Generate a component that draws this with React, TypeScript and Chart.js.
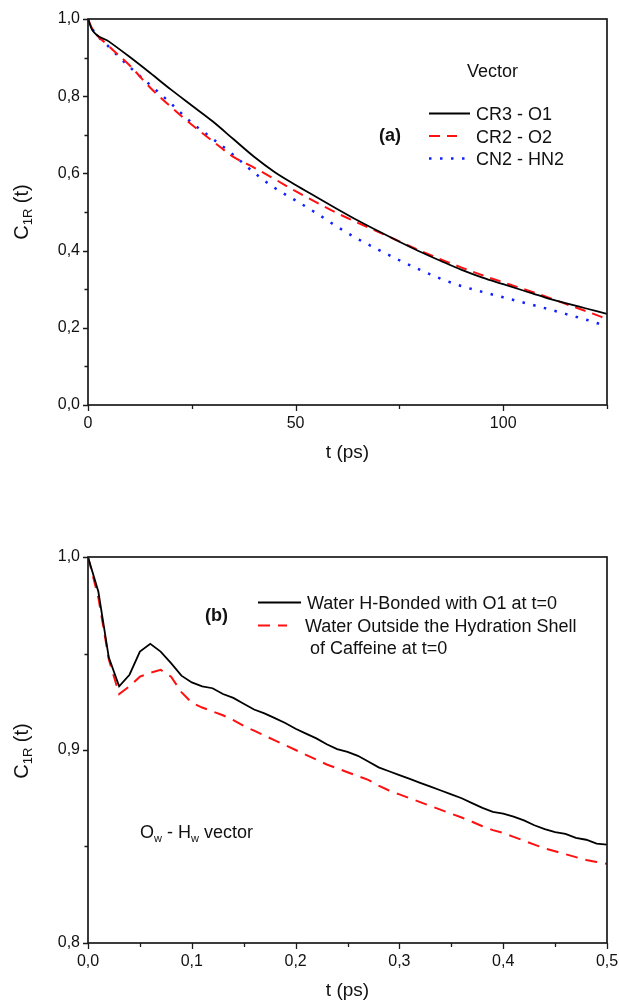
import React, { useEffect, useRef } from "react";
import { Chart, registerables } from "chart.js";
Chart.register(...registerables);

const FONT = "'Liberation Sans', Arial, Helvetica, sans-serif";

// ---------- Panel (a) ----------
const timeA = [0, 1, 5, 10, 15, 20, 25, 30, 35, 40, 45, 50, 55, 60, 65, 70, 75, 80, 85, 90, 95, 100, 105, 110, 115, 120, 125];
const seriesCR3O1 = [1.0, 0.972, 0.942, 0.902, 0.86, 0.817, 0.776, 0.735, 0.689, 0.643, 0.603, 0.57, 0.539, 0.508, 0.478, 0.45, 0.423, 0.397, 0.373, 0.35, 0.33, 0.313, 0.296, 0.279, 0.264, 0.25, 0.236];
const seriesCR2O2 = [1.0, 0.975, 0.93, 0.88, 0.822, 0.772, 0.726, 0.684, 0.643, 0.615, 0.585, 0.554, 0.525, 0.497, 0.472, 0.448, 0.424, 0.4, 0.377, 0.356, 0.336, 0.318, 0.3, 0.282, 0.262, 0.243, 0.223];
const seriesCN2HN2 = [1.0, 0.975, 0.928, 0.876, 0.829, 0.781, 0.731, 0.69, 0.648, 0.602, 0.562, 0.53, 0.497, 0.462, 0.43, 0.402, 0.375, 0.35, 0.327, 0.308, 0.293, 0.279, 0.265, 0.251, 0.236, 0.221, 0.204];
const namesA = ["CR3 - O1", "CR2 - O2", "CN2 - HN2"];
const xRangeA = [0, 125];
const yRangeA = [0, 1];

// ---------- Panel (b) ----------
const timeB = [0, 0.01, 0.02, 0.03, 0.04, 0.05, 0.06, 0.07, 0.08, 0.09, 0.1, 0.11, 0.12, 0.13, 0.14, 0.15, 0.16, 0.17, 0.18, 0.19, 0.2, 0.21, 0.22, 0.23, 0.24, 0.25, 0.26, 0.27, 0.28, 0.29, 0.3, 0.31, 0.32, 0.33, 0.34, 0.35, 0.36, 0.37, 0.38, 0.39, 0.4, 0.41, 0.42, 0.43, 0.44, 0.45, 0.46, 0.47, 0.48, 0.49, 0.5];
const seriesHBonded = [1.0, 0.982, 0.948, 0.933, 0.939, 0.951, 0.955, 0.951, 0.945, 0.9385, 0.935, 0.933, 0.932, 0.929, 0.927, 0.924, 0.921, 0.919, 0.9165, 0.914, 0.911, 0.9085, 0.906, 0.903, 0.9005, 0.899, 0.897, 0.894, 0.891, 0.889, 0.887, 0.885, 0.883, 0.881, 0.879, 0.877, 0.875, 0.8725, 0.87, 0.868, 0.867, 0.8655, 0.8635, 0.861, 0.859, 0.8575, 0.8565, 0.8545, 0.8535, 0.8515, 0.851];
const seriesOutside = [1.0, 0.979, 0.947, 0.929, 0.933, 0.938, 0.94, 0.9415, 0.938, 0.93, 0.9245, 0.922, 0.92, 0.918, 0.9155, 0.9125, 0.91, 0.9075, 0.905, 0.9025, 0.9, 0.8975, 0.895, 0.8925, 0.8905, 0.8885, 0.8865, 0.8845, 0.8815, 0.879, 0.877, 0.875, 0.873, 0.871, 0.869, 0.867, 0.865, 0.8628, 0.8605, 0.8585, 0.857, 0.855, 0.853, 0.851, 0.849, 0.8475, 0.846, 0.8445, 0.843, 0.842, 0.841];
const namesB = ["Water H-Bonded with O1 at t=0", "Water Outside the Hydration Shell", " of Caffeine at t=0"];
const xRangeB = [0, 0.5];
const yRangeB = [0.8, 1.0];

const BLACK = "#000000";
const RED = "#ff1010";
const BLUE = "#1020ff";
const INK = "#111111";

const comma = (v: number, d: number) => v.toFixed(d).replace(".", ",");

function drawRich(ctx: CanvasRenderingContext2D, parts: { t: string; size: number; dy: number }[], x: number, y: number, center: boolean) {
  let w = 0;
  parts.forEach((p) => {
    ctx.font = `${p.size}px ${FONT}`;
    w += ctx.measureText(p.t).width;
  });
  let cx = center ? x - w / 2 : x;
  parts.forEach((p) => {
    ctx.font = `${p.size}px ${FONT}`;
    ctx.fillText(p.t, cx, y + p.dy);
    cx += ctx.measureText(p.t).width;
  });
}

function drawYTitle(ctx: CanvasRenderingContext2D, bx: number, cy: number) {
  ctx.save();
  ctx.translate(bx, cy);
  ctx.rotate(-Math.PI / 2);
  ctx.fillStyle = INK;
  ctx.textBaseline = "alphabetic";
  drawRich(ctx, [{ t: "C", size: 20, dy: 0 }, { t: "1R", size: 13, dy: 4 }, { t: " (t)", size: 20, dy: 0 }], 0, 0, true);
  ctx.restore();
}

function sampleLine(ctx: CanvasRenderingContext2D, ds: any, x0: number, x1: number, y: number) {
  ctx.save();
  ctx.strokeStyle = ds.borderColor;
  ctx.lineWidth = ds.borderWidth;
  ctx.setLineDash(ds.borderDash || []);
  ctx.beginPath();
  ctx.moveTo(x0, y);
  ctx.lineTo(x1, y);
  ctx.stroke();
  ctx.restore();
}

const framePlugin = {
  id: "frameTicks",
  afterDatasetsDraw(chart: any) {
    const { ctx, chartArea: a } = chart;
    const xs = chart.scales.x;
    const ys = chart.scales.y;
    ctx.save();
    ctx.strokeStyle = "#1a1a1a";
    ctx.lineWidth = 1.3;
    ctx.beginPath();
    xs.ticks.forEach((t: any) => {
      const px = Math.round(xs.getPixelForValue(t.value)) + 0.5;
      const len = t.label ? 6 : 4;
      ctx.moveTo(px, a.bottom);
      ctx.lineTo(px, a.bottom + len);
    });
    ys.ticks.forEach((t: any) => {
      const py = Math.round(ys.getPixelForValue(t.value)) + 0.5;
      const len = t.label ? 5 : 3.5;
      ctx.moveTo(a.left, py);
      ctx.lineTo(a.left - len, py);
    });
    ctx.stroke();
    ctx.lineWidth = 1.7;
    ctx.strokeRect(a.left, a.top, a.right - a.left, a.bottom - a.top);
    ctx.restore();
  },
};

function makeOptions(opts: {
  xr: number[]; yr: number[]; xStep: number; yStep: number;
  xLabel: (v: number) => string; yLabel: (v: number) => string;
  padTop: number; xAxisH: number; titlePad: number; annotate: (ctx: CanvasRenderingContext2D, chart: any) => void;
}) {
  const tickFont = { family: FONT, size: 16 };
  return {
    options: {
      responsive: false,
      animation: false as const,
      events: [],
      layout: { padding: { top: opts.padTop, right: 12, left: 0, bottom: 0 } },
      plugins: { legend: { display: false }, tooltip: { enabled: false } },
      elements: { point: { radius: 0 } },
      scales: {
        x: {
          type: "linear" as const,
          min: opts.xr[0],
          max: opts.xr[1],
          border: { display: false },
          grid: { display: true, drawOnChartArea: false, drawTicks: true, tickLength: 5, tickColor: "rgba(0,0,0,0)", color: "rgba(0,0,0,0)" },
          ticks: { stepSize: opts.xStep, autoSkip: false, maxRotation: 0, padding: 4, color: INK, font: tickFont, callback: (v: any) => opts.xLabel(Number(v)) },
          title: { display: true, text: "t (ps)", color: INK, font: { family: FONT, size: 19, lineHeight: 1 }, padding: { top: 0, bottom: opts.titlePad } },
          afterFit: (s: any) => { s.height = opts.xAxisH; s.paddingLeft = 0; s.paddingRight = 0; },
        },
        y: {
          type: "linear" as const,
          min: opts.yr[0],
          max: opts.yr[1],
          border: { display: false },
          grid: { display: true, drawOnChartArea: false, drawTicks: true, tickLength: 5, tickColor: "rgba(0,0,0,0)", color: "rgba(0,0,0,0)" },
          ticks: { stepSize: opts.yStep, autoSkip: false, padding: 3, color: INK, font: tickFont, callback: (v: any) => opts.yLabel(Number(v)) },
          afterFit: (s: any) => { s.width = 88; s.paddingTop = 0; s.paddingBottom = 0; },
        },
      },
    },
    plugins: [
      framePlugin,
      {
        id: "annot",
        afterDraw(chart: any) {
          const ctx = chart.ctx as CanvasRenderingContext2D;
          ctx.save();
          opts.annotate(ctx, chart);
          ctx.restore();
        },
      },
    ],
  };
}

function buildA(canvas: HTMLCanvasElement) {
  const conf = makeOptions({
    xr: xRangeA, yr: yRangeA, xStep: 25, yStep: 0.1,
    xLabel: (v) => (Math.round(v) % 50 === 0 ? String(Math.round(v)) : ""),
    yLabel: (v) => (Math.round(v * 10) % 2 === 0 ? comma(v, 1) : ""),
    padTop: 19, xAxisH: 478 - 405, titlePad: 16,
    annotate: (ctx, chart) => {
      const ds = chart.data.datasets;
      ctx.fillStyle = INK;
      ctx.textBaseline = "alphabetic";
      ctx.textAlign = "left";
      ctx.font = `18px ${FONT}`;
      ctx.fillText("Vector", 467, 77);
      const rows = [113.5, 136, 158.5];
      const ends = [470, 457, 466];
      rows.forEach((y, i) => {
        sampleLine(ctx, ds[i], 429, ends[i], y);
        ctx.fillStyle = INK;
        ctx.font = `18px ${FONT}`;
        ctx.fillText(ds[i].label, 476, y + 6.5);
      });
      ctx.font = `bold 18px ${FONT}`;
      ctx.fillText("(a)", 379, 141);
      drawYTitle(ctx, 28, 212);
    },
  });
  return new Chart(canvas, {
    type: "line",
    data: {
      datasets: [
        { label: namesA[0], data: timeA.map((t, i) => ({ x: t, y: seriesCR3O1[i] })), borderColor: BLACK, borderWidth: 1.8, cubicInterpolationMode: "monotone" },
        { label: namesA[1], data: timeA.map((t, i) => ({ x: t, y: seriesCR2O2[i] })), borderColor: RED, borderWidth: 2, borderDash: [11, 7], cubicInterpolationMode: "monotone" },
        { label: namesA[2], data: timeA.map((t, i) => ({ x: t, y: seriesCN2HN2[i] })), borderColor: BLUE, borderWidth: 2.5, borderDash: [2.5, 8.5], cubicInterpolationMode: "monotone" },
      ] as any,
    },
    options: conf.options as any,
    plugins: conf.plugins as any,
  });
}

function buildB(canvas: HTMLCanvasElement) {
  const off = 478;
  const conf = makeOptions({
    xr: xRangeB, yr: yRangeB, xStep: 0.05, yStep: 0.05,
    xLabel: (v) => (Math.round(v * 100) % 10 === 0 ? comma(v, 1) : ""),
    yLabel: (v) => (Math.round(v * 100) % 10 === 0 ? comma(v, 1) : ""),
    padTop: 557 - off, xAxisH: 1000 - 943, titlePad: 0,
    annotate: (ctx, chart) => {
      const ds = chart.data.datasets;
      ctx.fillStyle = INK;
      ctx.textBaseline = "alphabetic";
      ctx.textAlign = "left";
      sampleLine(ctx, ds[0], 258, 301, 602.5 - off);
      sampleLine(ctx, ds[1], 258, 287, 625.5 - off);
      ctx.fillStyle = INK;
      ctx.font = `18px ${FONT}`;
      ctx.fillText(namesB[0], 307, 609 - off);
      ctx.fillText(namesB[1], 305, 632 - off);
      ctx.fillText(namesB[2], 305, 654 - off);
      ctx.font = `bold 18px ${FONT}`;
      ctx.fillText("(b)", 205, 621 - off);
      drawRich(ctx, [
        { t: "O", size: 18, dy: 0 }, { t: "w", size: 11, dy: 4 },
        { t: " - H", size: 18, dy: 0 }, { t: "w", size: 11, dy: 4 },
        { t: " vector", size: 18, dy: 0 },
      ], 140, 838 - off, false);
      drawYTitle(ctx, 28, 751 - off);
    },
  });
  return new Chart(canvas, {
    type: "line",
    data: {
      datasets: [
        { label: namesB[0], data: timeB.map((t, i) => ({ x: t, y: seriesHBonded[i] })), borderColor: BLACK, borderWidth: 1.8, tension: 0 },
        { label: namesB[1], data: timeB.map((t, i) => ({ x: t, y: seriesOutside[i] })), borderColor: RED, borderWidth: 2, borderDash: [12, 8], tension: 0 },
      ] as any,
    },
    options: conf.options as any,
    plugins: conf.plugins as any,
  });
}

export default function App() {
  const refA = useRef<HTMLCanvasElement>(null);
  const refB = useRef<HTMLCanvasElement>(null);
  useEffect(() => {
    const a = buildA(refA.current!);
    const b = buildB(refB.current!);
    return () => {
      a.destroy();
      b.destroy();
    };
  }, []);
  return (
    <div style={{ position: "absolute", left: 0, top: 0, width: 619, height: 1000, background: "#fff" }}>
      <canvas ref={refA} width={619} height={478} style={{ position: "absolute", left: 0, top: 0, width: 619, height: 478 }} />
      <canvas ref={refB} width={619} height={522} style={{ position: "absolute", left: 0, top: 478, width: 619, height: 522 }} />
    </div>
  );
}
